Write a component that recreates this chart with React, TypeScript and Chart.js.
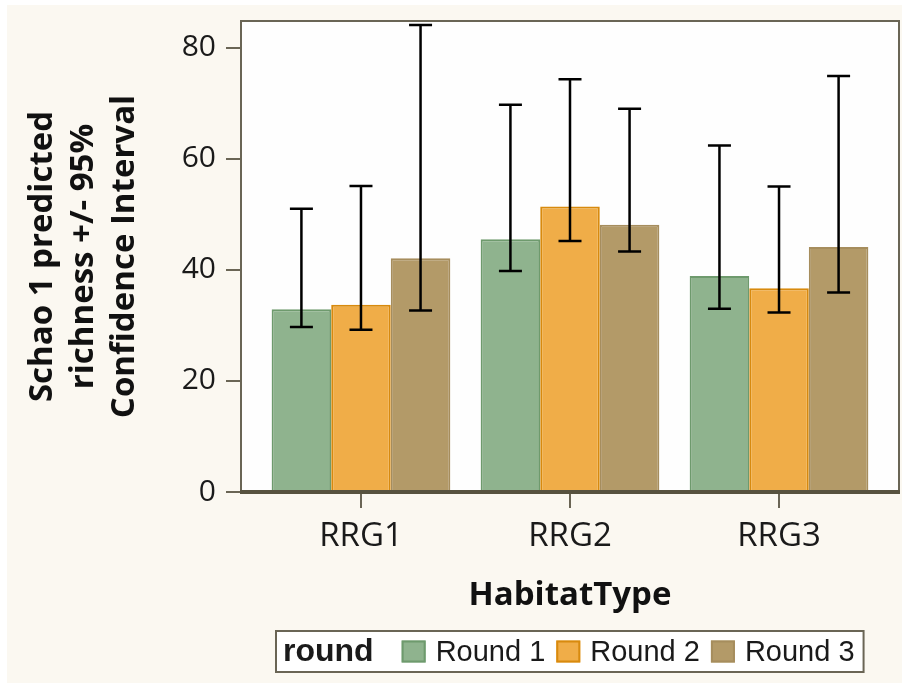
import { useEffect, useRef } from "react";
import { Chart, registerables } from "chart.js";

Chart.register(...registerables);

// ---- data ----
const habitatTypes = ["RRG1", "RRG2", "RRG3"];
const roundNames = ["Round 1", "Round 2", "Round 3"];

const round1Mean = [32.9, 45.5, 38.9];
const round1Lower = [29.7, 39.8, 33.0];
const round1Upper = [51.0, 69.7, 62.4];

const round2Mean = [33.7, 51.4, 36.7];
const round2Lower = [29.2, 45.2, 32.3];
const round2Upper = [55.1, 74.3, 55.0];

const round3Mean = [42.1, 48.1, 44.1];
const round3Lower = [32.7, 43.3, 35.9];
const round3Upper = [84.1, 69.0, 74.9];

const yTickValues = [0, 20, 40, 60, 80];
const yMax = 84.8;

const yTitleLines = ["Schao 1 predicted", "richness +/- 95%", "Confidence Interval"];
const xTitle = "HabitatType";
const legendTitle = "round";

// ---- style ----
const FILLS = ["#8fb38e", "#f0ad48", "#b39a68"];
const EDGES = ["#6e9a6d", "#d88a0e", "#a68d5d"];
const FRAME = "#6a6555";
const PAGE = "#fbf8f1";
const TEXT = "#1a1a1a";
const FONT = "'Open Sans', 'DejaVu Sans', sans-serif";
const LEGEND_FONT = "'Liberation Sans', Arial, sans-serif";
const CAT_PAD = 0.074; // extra room at both ends of the category axis

const background = {
  id: "background",
  beforeDraw(chart: any) {
    const { ctx, width, height, chartArea } = chart;
    ctx.save();
    ctx.fillStyle = "#ffffff";
    ctx.fillRect(0, 0, width, height);
    ctx.fillStyle = PAGE;
    ctx.fillRect(7, 5, width - 7, height - 5);
    ctx.fillStyle = "#fefefe";
    ctx.fillRect(
      chartArea.left,
      chartArea.top,
      chartArea.right - chartArea.left,
      chartArea.bottom - chartArea.top
    );
    ctx.restore();
  },
};

const frame = {
  id: "frame",
  afterDatasetsDraw(chart: any) {
    const { ctx, chartArea } = chart;
    const { left, top, right, bottom } = chartArea;
    ctx.save();
    ctx.strokeStyle = FRAME;
    ctx.lineWidth = 2;
    ctx.beginPath();
    ctx.moveTo(left, bottom);
    ctx.lineTo(left, top);
    ctx.lineTo(right, top);
    ctx.lineTo(right, bottom);
    ctx.stroke();
    ctx.strokeStyle = "#57523f";
    ctx.lineWidth = 4;
    ctx.beginPath();
    ctx.moveTo(left - 1, bottom);
    ctx.lineTo(right + 1, bottom);
    ctx.stroke();
    ctx.restore();
  },
};

const errorBars = {
  id: "errorBars",
  afterDatasetsDraw(chart: any) {
    const { ctx } = chart;
    const y = chart.scales.y;
    ctx.save();
    ctx.strokeStyle = "#000000";
    ctx.lineWidth = 2.5;
    chart.data.datasets.forEach((ds: any, di: number) => {
      const meta = chart.getDatasetMeta(di);
      meta.data.forEach((bar: any, i: number) => {
        const x = bar.x;
        const lo = y.getPixelForValue(ds.lower[i]);
        const hi = y.getPixelForValue(ds.upper[i]);
        const half = 11.5;
        ctx.beginPath();
        ctx.moveTo(x, lo);
        ctx.lineTo(x, hi);
        ctx.moveTo(x - half, lo);
        ctx.lineTo(x + half, lo);
        ctx.moveTo(x - half, hi);
        ctx.lineTo(x + half, hi);
        ctx.stroke();
      });
    });
    ctx.restore();
  },
};

const boxLegend = {
  id: "boxLegend",
  afterDraw(chart: any) {
    const { ctx, chartArea } = chart;
    const boldFont = `bold 32px ${LEGEND_FONT}`;
    const itemFont = `29px ${LEGEND_FONT}`;
    const sw = 24;
    const sh = 22;
    ctx.save();
    ctx.font = boldFont;
    const titleW = ctx.measureText(legendTitle).width;
    ctx.font = itemFont;
    const itemW = roundNames.map((n) => ctx.measureText(n).width);
    const padL = 7;
    const padR = 9;
    const gapTitle = 28;
    const gapSwatch = 10;
    const gapItem = 11;
    let total = padL + titleW + gapTitle;
    itemW.forEach((w, i) => {
      total += sw + gapSwatch + w + (i < itemW.length - 1 ? gapItem : 0);
    });
    total += padR;
    const cx = (chartArea.left + chartArea.right) / 2;
    const bx = Math.round(cx - total / 2);
    const by = 631;
    const bh = 41;
    const midY = by + bh / 2;

    ctx.fillStyle = "#ffffff";
    ctx.fillRect(bx, by, total, bh);
    ctx.strokeStyle = FRAME;
    ctx.lineWidth = 2;
    ctx.strokeRect(bx, by, total, bh);

    ctx.textBaseline = "middle";
    ctx.textAlign = "left";
    ctx.fillStyle = TEXT;
    ctx.font = boldFont;
    let x = bx + padL;
    ctx.fillText(legendTitle, x, midY + 1);
    x += titleW + gapTitle;
    ctx.font = itemFont;
    roundNames.forEach((name, i) => {
      ctx.fillStyle = FILLS[i];
      ctx.fillRect(x, midY - sh / 2, sw, sh);
      ctx.strokeStyle = EDGES[i];
      ctx.lineWidth = 2;
      ctx.strokeRect(x + 1, midY - sh / 2 + 1, sw - 2, sh - 2);
      x += sw + gapSwatch;
      ctx.fillStyle = TEXT;
      ctx.fillText(name, x, midY + 1);
      x += itemW[i] + gapItem;
    });
    ctx.restore();
  },
};

export default function App() {
  const canvasRef = useRef<HTMLCanvasElement | null>(null);

  useEffect(() => {
    if (!canvasRef.current) return;
    const means = [round1Mean, round2Mean, round3Mean];
    const lowers = [round1Lower, round2Lower, round3Lower];
    const uppers = [round1Upper, round2Upper, round3Upper];

    const chart = new Chart(canvasRef.current, {
      type: "bar",
      data: {
        labels: habitatTypes,
        datasets: roundNames.map((name, i) => ({
          label: name,
          data: means[i],
          lower: lowers[i],
          upper: uppers[i],
          backgroundColor: FILLS[i],
          borderColor: EDGES[i],
          borderWidth: 2,
          categoryPercentage: 0.855,
          barPercentage: 1,
        })) as any,
      },
      options: {
        animation: false,
        responsive: false,
        maintainAspectRatio: false,
        layout: { padding: { left: 0, top: 21, right: 3, bottom: 0 } },
        plugins: {
          legend: { display: false },
          tooltip: { enabled: false },
        },
        scales: {
          x: {
            offset: true,
            afterBuildTicks: (s: any) => {
              s._startValue = -0.5 - CAT_PAD;
              s._valueRange = habitatTypes.length + 2 * CAT_PAD;
            },
            afterFit: (s: any) => {
              s.height = 191;
              s.paddingLeft = 0;
              s.paddingRight = 0;
            },
            grid: {
              offset: false,
              drawOnChartArea: false,
              drawTicks: true,
              tickLength: 16,
              color: FRAME,
              lineWidth: 2,
            },
            border: { display: false },
            ticks: {
              color: TEXT,
              padding: 9,
              maxRotation: 0,
              font: { family: FONT, size: 33 },
            },
            title: {
              display: true,
              text: xTitle,
              color: "#111111",
              font: { family: FONT, size: 33, weight: "bold", lineHeight: 1.2 },
              padding: { top: 0, bottom: 68 },
            },
          },
          y: {
            min: 0,
            max: yMax,
            afterBuildTicks: (s: any) => {
              s.ticks = yTickValues.map((v) => ({ value: v }));
            },
            afterFit: (s: any) => {
              s.width = 241;
              s.paddingTop = 0;
              s.paddingBottom = 0;
            },
            grid: {
              drawOnChartArea: false,
              drawTicks: true,
              tickLength: 15,
              color: FRAME,
              lineWidth: 2,
            },
            border: { display: false },
            ticks: {
              color: TEXT,
              padding: 10,
              font: { family: FONT, size: 30 },
            },
            title: {
              display: true,
              text: yTitleLines,
              color: "#111111",
              font: { family: FONT, size: 33, weight: "bold", lineHeight: 1.24 },
              padding: { top: 22, bottom: 0 },
            },
          },
        },
      },
      plugins: [background, frame, errorBars, boxLegend],
    } as any);

    return () => chart.destroy();
  }, []);

  return (
    <div style={{ position: "absolute", left: 0, top: 0, width: 902, height: 683 }}>
      <canvas ref={canvasRef} width={902} height={683} />
    </div>
  );
}
